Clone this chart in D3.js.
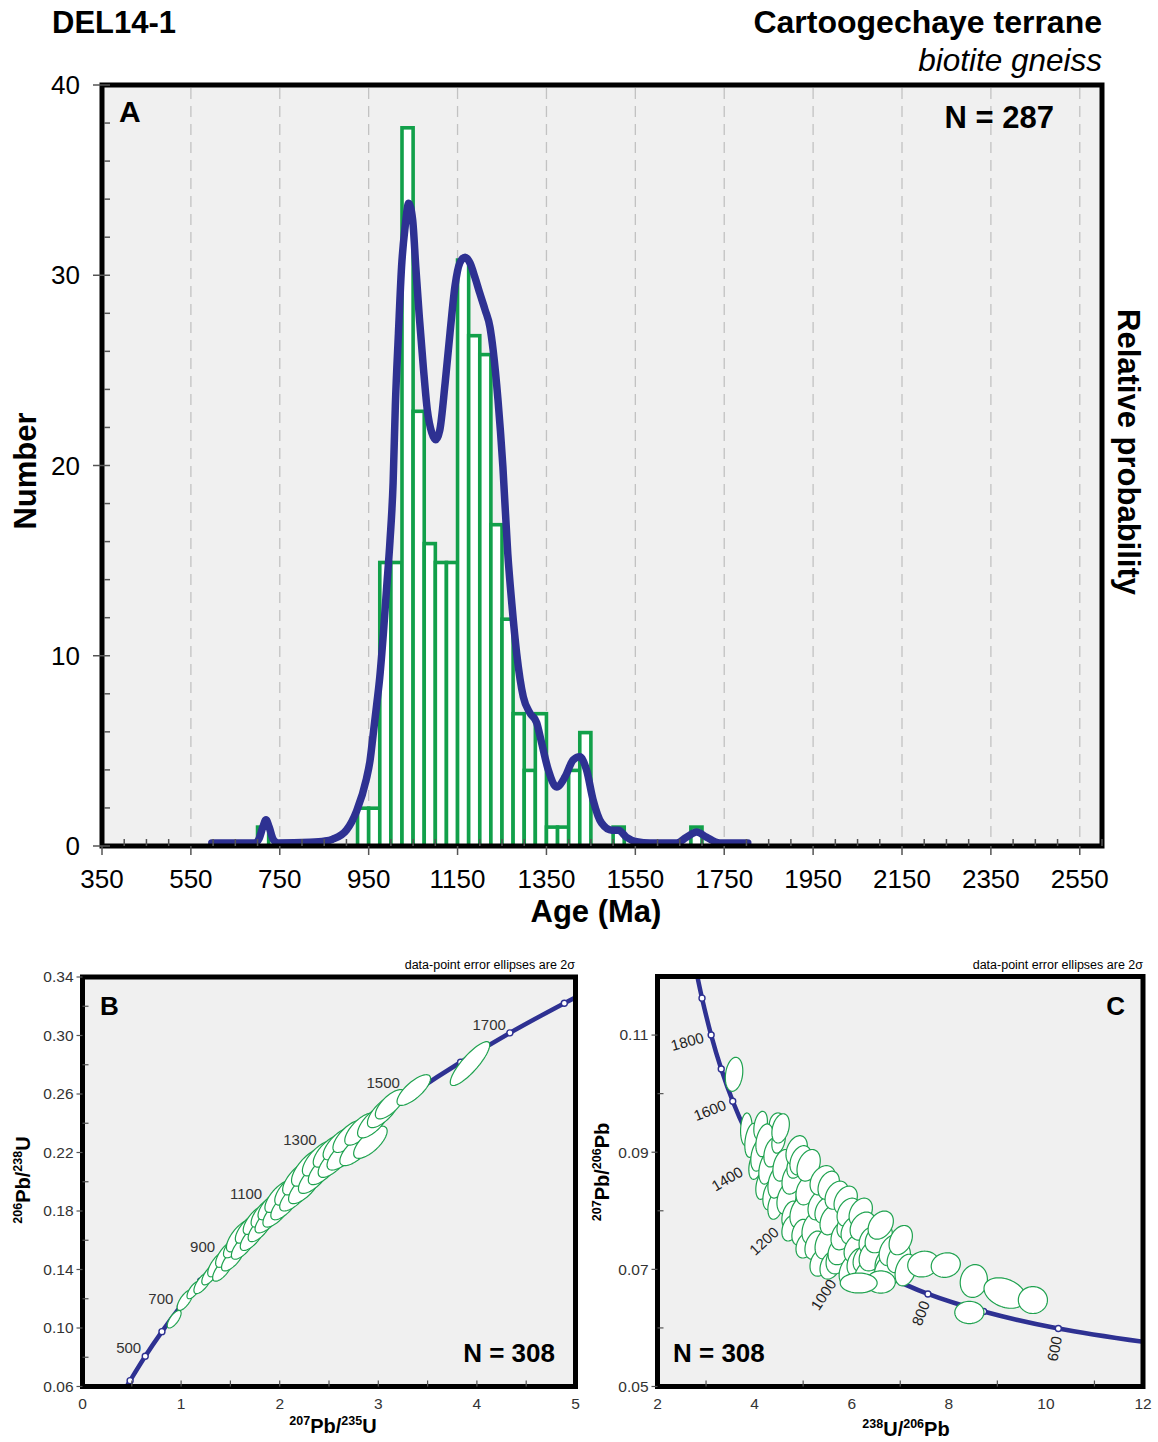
<!DOCTYPE html>
<html><head><meta charset="utf-8">
<script src="https://cdn.jsdelivr.net/npm/d3@7"></script>
<style>
body{margin:0;background:#fff;}
svg text{font-family:"Liberation Sans",Arial,Helvetica,sans-serif;}
</style>
</head><body>
<svg id="c" width="1158" height="1442"></svg>
<script>
// ---------------- DATA ----------------
// Panel A: histogram (25 Ma bins, start ages) and counts
const histBinStart = [700, 925, 950, 975, 1000, 1025, 1050, 1075, 1100, 1125, 1150, 1175, 1200, 1225, 1250, 1275, 1300, 1325, 1350, 1375, 1400, 1425, 1500, 1675];
const histBinWidth = 25;
const histCounts   = [1, 2, 2, 15, 15, 38, 23, 16, 15, 15, 31, 27, 26, 17, 12, 7, 4, 7, 1, 1, 4, 6, 1, 1];
// Panel A: relative probability curve (age Ma, relative probability)
const probAge = [597,694,703,712,719,726,735,746,818,852,869,900,923,945,953,960,968,975,983,990,998,1005,1010,1017,1024,1032,1040,1049,1056,1064,1073,1082,1092,1101,1110,1122,1133,1144,1155,1167,1178,1189,1200,1212,1223,1230,1241,1252,1263,1272,1283,1298,1313,1328,1339,1354,1373,1392,1410,1425,1440,1455,1474,1497,1512,1530,1553,1583,1643,1665,1688,1710,1740,1803];
const probRel = [0,0,0.006,0.025,0.036,0.025,0.006,0,0.001,0.003,0.006,0.020,0.050,0.100,0.128,0.168,0.215,0.258,0.325,0.393,0.470,0.560,0.680,0.793,0.896,0.958,0.995,0.969,0.896,0.818,0.740,0.673,0.638,0.627,0.642,0.715,0.793,0.865,0.902,0.911,0.902,0.880,0.855,0.829,0.802,0.767,0.689,0.585,0.450,0.373,0.295,0.227,0.202,0.187,0.156,0.114,0.087,0.103,0.129,0.134,0.114,0.067,0.031,0.020,0.020,0.009,0.002,0,0,0.009,0.017,0.009,0,0];
const ageTicks = [350, 550, 750, 950, 1150, 1350, 1550, 1750, 1950, 2150, 2350, 2550];
const numberTicks = [0, 10, 20, 30, 40];

// Panel B: Wetherill concordia (age, 207Pb/235U, 206Pb/238U)
const concBAge = [370, 400, 500, 600, 700, 800, 900, 1000, 1100, 1200, 1300, 1400, 1500, 1600, 1700, 1800, 1820];
const concB207 = [0.4396, 0.4828, 0.6362, 0.8057, 0.9925, 1.1987, 1.4264, 1.6774, 1.9546, 2.2603, 2.5977, 2.9700, 3.3809, 3.8343, 4.3347, 4.8867, 5.004];
const concB206 = [0.0591, 0.0640, 0.0807, 0.0975, 0.1147, 0.1321, 0.1498, 0.1678, 0.1861, 0.2046, 0.2234, 0.2426, 0.2620, 0.2817, 0.3018, 0.3221, 0.3262];
const concBLabels = [500, 700, 900, 1100, 1300, 1500, 1700];
// Panel B ellipses: [207/235, 2s, 206/238, 2s, rho]
const ellB = [
[0.93,0.07,0.106,0.006,0.7],[1.04,0.08,0.119,0.007,0.7],[1.13,0.07,0.126,0.006,0.7],[1.22,0.09,0.131,0.0075,0.7],
[1.30,0.09,0.137,0.0075,0.7],[1.38,0.11,0.144,0.009,0.7],[1.42,0.10,0.140,0.008,0.7],[1.47,0.12,0.151,0.0095,0.7],
[1.52,0.11,0.147,0.008,0.7],[1.55,0.12,0.157,0.009,0.7],[1.60,0.14,0.163,0.011,0.7],[1.63,0.12,0.156,0.009,0.7],
[1.68,0.13,0.168,0.010,0.7],[1.72,0.12,0.162,0.009,0.7],[1.76,0.13,0.174,0.010,0.7],[1.80,0.12,0.168,0.009,0.7],
[1.84,0.13,0.179,0.010,0.7],[1.88,0.13,0.174,0.009,0.7],[1.92,0.14,0.184,0.010,0.7],[1.97,0.14,0.179,0.010,0.7],
[2.00,0.15,0.190,0.011,0.7],[2.05,0.14,0.184,0.010,0.7],[2.10,0.15,0.195,0.011,0.7],[2.15,0.15,0.190,0.010,0.7],
[2.20,0.17,0.203,0.012,0.7],[2.25,0.16,0.196,0.011,0.7],[2.30,0.18,0.210,0.013,0.7],[2.35,0.16,0.203,0.011,0.7],
[2.40,0.17,0.216,0.012,0.7],[2.45,0.16,0.209,0.011,0.7],[2.50,0.16,0.221,0.011,0.7],[2.55,0.16,0.214,0.011,0.7],
[2.60,0.16,0.226,0.011,0.7],[2.65,0.17,0.219,0.011,0.7],[2.70,0.16,0.231,0.011,0.7],[2.78,0.17,0.222,0.011,0.7],
[2.82,0.16,0.236,0.011,0.7],[2.92,0.17,0.227,0.011,0.7],[2.95,0.16,0.241,0.011,0.7],[3.05,0.16,0.248,0.011,0.7],
[3.12,0.15,0.253,0.010,0.7],[3.36,0.17,0.2627,0.0105,0.75],[3.93,0.20,0.2808,0.015,0.85]
];
const bXTicks = [0, 1, 2, 3, 4, 5];
const bYTicks = [0.06, 0.10, 0.14, 0.18, 0.22, 0.26, 0.30, 0.34];

// Panel C: Tera-Wasserburg concordia (age, 238U/206Pb, 207Pb/206Pb)
const concCAge = [515, 600, 700, 800, 900, 1000, 1100, 1200, 1300, 1400, 1500, 1600, 1700, 1800, 1900, 1960];
const concC238 = [12.024, 10.256, 8.718, 7.570, 6.676, 5.959, 5.373, 4.888, 4.476, 4.122, 3.817, 3.550, 3.313, 3.105, 2.917, 2.814];
const concC207 = [0.0576, 0.0599, 0.0628, 0.0658, 0.0691, 0.0725, 0.0762, 0.0801, 0.0843, 0.0888, 0.0936, 0.0987, 0.1042, 0.1100, 0.1163, 0.1203];
const concCLabels = [600, 800, 1000, 1200, 1400, 1600, 1800];
// Panel C ellipses: [238/206, 2s, 207/206, 2s, rho]
const ellC = [
[3.577,0.18,0.1033,0.0029,0.2],[3.831,0.12,0.0939,0.0028,0.1],[4.482,0.18,0.0946,0.0021,0.0],
[3.938,0.14,0.09203,0.0029,0.3],[4.021,0.14,0.08777,0.0024,0.3],[4.082,0.16,0.08947,0.0027,0.3],
[4.124,0.14,0.09458,0.0024,0.3],[4.165,0.14,0.08436,0.0024,0.3],[4.206,0.18,0.09203,0.0028,0.3],
[4.247,0.16,0.08726,0.0027,0.3],[4.330,0.16,0.08266,0.0025,0.3],[4.371,0.18,0.08998,0.0025,0.3],
[4.433,0.16,0.08095,0.0024,0.3],[4.454,0.18,0.08487,0.0027,0.3],[4.495,0.14,0.09203,0.0022,0.3],
[4.536,0.18,0.09407,0.0025,0.3],[4.577,0.20,0.08777,0.0027,0.3],[4.660,0.20,0.08215,0.0027,0.3],
[4.742,0.18,0.07925,0.0024,0.3],[4.742,0.18,0.07704,0.0022,0.3],[4.784,0.22,0.08555,0.0027,0.3],
[4.845,0.18,0.08777,0.0022,0.3],[4.866,0.22,0.09032,0.0025,0.3],[4.948,0.22,0.07976,0.0027,0.3],
[4.948,0.22,0.08862,0.0025,0.3],[4.948,0.18,0.07635,0.0022,0.3],[5.052,0.20,0.07414,0.0022,0.3],
[5.072,0.22,0.08351,0.0025,0.3],[5.113,0.24,0.08777,0.0027,0.3],[5.196,0.22,0.07704,0.0027,0.3],
[5.237,0.20,0.07414,0.0024,0.3],[5.320,0.22,0.08095,0.0025,0.3],[5.361,0.22,0.07124,0.0024,0.3],
[5.402,0.26,0.08521,0.0025,0.3],[5.443,0.20,0.08010,0.0022,0.3],[5.485,0.24,0.07448,0.0027,0.3],
[5.526,0.22,0.08436,0.0024,0.3],[5.567,0.22,0.07840,0.0025,0.3],[5.567,0.22,0.07073,0.0024,0.3],
[5.691,0.24,0.08266,0.0024,0.3],[5.732,0.26,0.07193,0.0027,0.3],[5.773,0.26,0.07329,0.0025,0.3],
[5.814,0.24,0.07584,0.0025,0.3],[5.876,0.24,0.08181,0.0024,0.3],[5.897,0.20,0.07755,0.0022,0.3],
[5.938,0.24,0.07976,0.0024,0.3],[6.021,0.28,0.06988,0.0029,0.3],[6.021,0.24,0.07669,0.0024,0.3],
[6.103,0.26,0.07363,0.0025,0.3],[6.124,0.22,0.07124,0.0024,0.3],[6.186,0.24,0.07976,0.0024,0.3],
[6.227,0.26,0.07738,0.0024,0.3],[6.289,0.26,0.07193,0.0025,0.3],[6.351,0.30,0.06903,0.0029,0.3],
[6.351,0.20,0.07499,0.0022,0.3],[6.433,0.28,0.07244,0.0027,0.3],[6.557,0.28,0.07533,0.0025,0.3],
[6.598,0.26,0.07755,0.0024,0.3],[6.701,0.22,0.07124,0.0024,0.3],[6.763,0.30,0.06988,0.0031,0.3],
[6.845,0.28,0.07329,0.0027,0.3],[6.969,0.24,0.07193,0.0025,0.3],[7.010,0.24,0.07499,0.0025,0.3],
[7.113,0.22,0.06988,0.0027,0.3],[6.598,0.30,0.06784,0.0019,0.0],[6.144,0.38,0.06767,0.0017,0.0],
[7.474,0.32,0.07090,0.0022,0.1],[7.938,0.30,0.07073,0.0021,0.1],[8.515,0.28,0.06801,0.0028,0.1],
[9.155,0.43,0.06596,0.0026,-0.3],[9.732,0.30,0.06476,0.0023,0.0],[8.423,0.30,0.06264,0.0019,0.0]
];
const cXTicks = [2, 4, 6, 8, 10, 12];
const cYTicks = [0.05, 0.07, 0.09, 0.11];

// ---------------- STYLE ----------------
const BLUE = "#2e3192", GREEN = "#12a04a", EGREEN = "#1fa24f", BG = "#f0f0f0", TICK = "#555";
const svg = d3.select("#c");

// ================= PANEL A =================
const xA = d3.scaleLinear().domain([350, 2600]).range([102, 1102]);
const yA = d3.scaleLinear().domain([0, 40]).range([846, 85]);
const yH = d3.scaleLinear().domain([0, 40]).range([846, 90]);
const yP = d3.scaleLinear().domain([0, 1]).range([843, 200]);

svg.append("rect").attr("x", xA(350)).attr("y", yA(40)).attr("width", xA(2600) - xA(350)).attr("height", yA(0) - yA(40)).attr("fill", BG);

svg.append("g").selectAll("line").data(ageTicks.slice(1)).join("line")
  .attr("x1", d => xA(d)).attr("x2", d => xA(d)).attr("y1", yA(40) + 3).attr("y2", yA(0) - 3)
  .attr("stroke", "#c2c2c2").attr("stroke-width", 1.3).attr("stroke-dasharray", "11,7");

svg.append("g").selectAll("rect").data(histBinStart.map((s, i) => ({s, c: histCounts[i]}))).join("rect")
  .attr("x", d => xA(d.s)).attr("width", d => xA(d.s + histBinWidth) - xA(d.s))
  .attr("y", d => yH(d.c)).attr("height", d => yH(0) - yH(d.c))
  .attr("fill", "#fff").attr("stroke", GREEN).attr("stroke-width", 3.6);

svg.append("path").datum(probAge.map((a, i) => [a, probRel[i]]))
  .attr("d", d3.line().x(d => xA(d[0])).y(d => yP(d[1])).curve(d3.curveMonotoneX))
  .attr("fill", "none").attr("stroke", BLUE).attr("stroke-width", 7.5).attr("stroke-linejoin", "round").attr("stroke-linecap", "round");

svg.append("rect").attr("x", xA(350)).attr("y", yA(40)).attr("width", xA(2600) - xA(350)).attr("height", yA(0) - yA(40))
  .attr("fill", "none").attr("stroke", "#000").attr("stroke-width", 5);

const gA = svg.append("g");
gA.selectAll(".ym").data(d3.range(0, 41, 2)).join("line")
  .attr("x1", d => d % 10 === 0 ? 93 : 104).attr("x2", 110)
  .attr("y1", d => yA(d)).attr("y2", d => yA(d)).attr("stroke", TICK).attr("stroke-width", 1.5);
gA.selectAll(".xm").data(d3.range(350, 2601, 50)).join("line")
  .attr("x1", d => xA(d)).attr("x2", d => xA(d))
  .attr("y1", d => ageTicks.includes(d) ? 855 : 839).attr("y2", 846).attr("stroke", TICK).attr("stroke-width", 1.5);
gA.selectAll(".yl").data(numberTicks).join("text")
  .attr("x", 80).attr("y", d => yA(d)).attr("dy", "0.35em").attr("text-anchor", "end")
  .attr("font-size", 26).text(d => d);
gA.selectAll(".xl").data(ageTicks).join("text")
  .attr("x", d => xA(d)).attr("y", 888).attr("text-anchor", "middle")
  .attr("font-size", 26).text(d => d);

svg.append("text").attr("x", 596).attr("y", 922).attr("text-anchor", "middle").attr("font-size", 31).attr("font-weight", "bold").text("Age (Ma)");
svg.append("text").attr("transform", "translate(36,471) rotate(-90)").attr("text-anchor", "middle").attr("font-size", 31).attr("font-weight", "bold").text("Number");
svg.append("text").attr("transform", "translate(1118,452) rotate(90)").attr("text-anchor", "middle").attr("font-size", 31).attr("font-weight", "bold").text("Relative probability");
svg.append("text").attr("x", 52).attr("y", 33).attr("font-size", 31).attr("font-weight", "bold").text("DEL14-1");
svg.append("text").attr("x", 1102).attr("y", 33).attr("text-anchor", "end").attr("font-size", 32).attr("font-weight", "bold").text("Cartoogechaye terrane");
svg.append("text").attr("x", 1102).attr("y", 71).attr("text-anchor", "end").attr("font-size", 31.5).attr("font-style", "italic").text("biotite gneiss");
svg.append("text").attr("x", 119).attr("y", 122).attr("font-size", 30).attr("font-weight", "bold").text("A");
svg.append("text").attr("x", 1054).attr("y", 128).attr("text-anchor", "end").attr("font-size", 31).attr("font-weight", "bold").text("N = 287");

// ================= helpers =================
function ellipsePts(e, xs, ys) {
  const [cx, sx, cy, sy, r] = e, pts = [];
  const q = Math.sqrt(1 - r * r);
  for (let i = 0; i < 72; i++) {
    const t = i / 72 * 2 * Math.PI, u = Math.cos(t), v = Math.sin(t);
    pts.push([xs(cx + sx * u), ys(cy + sy * (r * u + q * v))]);
  }
  return pts;
}
function insideAny(polys, p) { return polys.some(pg => d3.polygonContains(pg, p)); }
function supTitle(g, parts, size, supSize) {
  parts.forEach((p, i) => {
    g.append("tspan").attr("font-size", p[1] ? supSize : size)
      .attr("dy", i === 0 ? (p[1] ? -size * 0.38 : 0) : (p[1] ? -size * 0.38 : size * 0.38)).text(p[0]);
  });
}
function frameTicks(g, xs, ys, xTickVals, xMinor, yTickVals, yMinor, fmtY) {
  const [x0] = xs.range(), [yb] = ys.range();
  g.selectAll(".xt").data(xMinor).join("line").attr("x1", d => xs(d)).attr("x2", d => xs(d))
    .attr("y1", yb - 6).attr("y2", yb).attr("stroke", TICK).attr("stroke-width", 1.2);
  g.selectAll(".ytm").data(yMinor).join("line").attr("y1", d => ys(d)).attr("y2", d => ys(d))
    .attr("x1", x0).attr("x2", x0 + 6).attr("stroke", TICK).attr("stroke-width", 1.2);
  g.selectAll(".ytM").data(yTickVals).join("line").attr("y1", d => ys(d)).attr("y2", d => ys(d))
    .attr("x1", x0 - 6).attr("x2", x0).attr("stroke", TICK).attr("stroke-width", 1.2);
  g.selectAll(".xl").data(xTickVals).join("text").attr("x", d => xs(d)).attr("y", yb + 22)
    .attr("text-anchor", "middle").attr("font-size", 15.5).attr("fill", "#333").text(d => d);
  g.selectAll(".yl").data(yTickVals).join("text").attr("x", x0 - 9).attr("y", d => ys(d)).attr("dy", "0.35em")
    .attr("text-anchor", "end").attr("font-size", 15.5).attr("fill", "#333").text(fmtY);
}

const defs = svg.append("defs");
defs.append("clipPath").attr("id", "clipB").append("rect").attr("x", 82.5).attr("y", 977).attr("width", 493).attr("height", 409.5);
defs.append("clipPath").attr("id", "clipC").append("rect").attr("x", 657.5).attr("y", 976.5).attr("width", 485.5).attr("height", 410);

// ================= PANEL B =================
const xB = d3.scaleLinear().domain([0, 5]).range([82.5, 575.5]);
const yB = d3.scaleLinear().domain([0.06, 0.34]).range([1386.5, 977]);
svg.append("rect").attr("x", 82.5).attr("y", 977).attr("width", 493).attr("height", 409.5).attr("fill", BG);
const gB = svg.append("g").attr("clip-path", "url(#clipB)");
gB.append("path").datum(concBAge.map((a, i) => [concB207[i], concB206[i]]))
  .attr("d", d3.line().x(d => xB(d[0])).y(d => yB(d[1])).curve(d3.curveCatmullRom))
  .attr("fill", "none").attr("stroke", BLUE).attr("stroke-width", 4.5);
const mB = concBAge.map((a, i) => ({a, x: concB207[i], y: concB206[i]})).filter(d => d.a % 100 === 0);
gB.selectAll("circle").data(mB).join("circle").attr("cx", d => xB(d.x)).attr("cy", d => yB(d.y)).attr("r", 3)
  .attr("fill", "#fff").attr("stroke", BLUE).attr("stroke-width", 1.4);
const polyB = ellB.map(e => ellipsePts(e, xB, yB));
gB.selectAll(".el").data(polyB).join("path").attr("d", p => d3.line().curve(d3.curveLinearClosed)(p))
  .attr("fill", "#fff").attr("stroke", EGREEN).attr("stroke-width", 1.2);
mB.filter(d => concBLabels.includes(d.a)).forEach(d => {
  let px = xB(d.x), py = yB(d.y) - 3;
  let k = 0; while (insideAny(polyB, [px, py]) && k < 60) { px -= 1; k++; }
  gB.append("text").attr("x", px - 4).attr("y", py).attr("text-anchor", "end")
    .attr("font-size", 15).attr("fill", "#333").text(d.a);
});
svg.append("rect").attr("x", 82.5).attr("y", 977).attr("width", 493).attr("height", 409.5).attr("fill", "none").attr("stroke", "#000").attr("stroke-width", 5);
frameTicks(svg.append("g"), xB, yB, bXTicks, d3.range(0.5, 5, 0.5), bYTicks, [0.08, 0.12, 0.16, 0.20, 0.24, 0.28, 0.32], d => d.toFixed(2));
svg.append("text").attr("x", 575).attr("y", 969).attr("text-anchor", "end").attr("font-size", 12.5).text("data-point error ellipses are 2σ");
svg.append("text").attr("x", 100).attr("y", 1015).attr("font-size", 26).attr("font-weight", "bold").text("B");
svg.append("text").attr("x", 555).attr("y", 1362).attr("text-anchor", "end").attr("font-size", 26).attr("font-weight", "bold").text("N = 308");
supTitle(svg.append("text").attr("x", 333).attr("y", 1433).attr("text-anchor", "middle").attr("font-weight", "bold"),
  [["207", 1], ["Pb/", 0], ["235", 1], ["U", 0]], 20, 12.5);
supTitle(svg.append("text").attr("transform", "translate(30,1180) rotate(-90)").attr("text-anchor", "middle").attr("font-weight", "bold"),
  [["206", 1], ["Pb/", 0], ["238", 1], ["U", 0]], 20, 12.5);

// ================= PANEL C =================
const xC = d3.scaleLinear().domain([2, 12]).range([657.5, 1143]);
const yC = d3.scaleLinear().domain([0.05, 0.12]).range([1386.5, 976.5]);
svg.append("rect").attr("x", 657.5).attr("y", 976.5).attr("width", 485.5).attr("height", 410).attr("fill", BG);
const gC = svg.append("g").attr("clip-path", "url(#clipC)");
const ptsC = concCAge.map((a, i) => ({a, x: concC238[i], y: concC207[i]}));
gC.append("path").datum(ptsC)
  .attr("d", d3.line().x(d => xC(d.x)).y(d => yC(d.y)).curve(d3.curveCatmullRom))
  .attr("fill", "none").attr("stroke", BLUE).attr("stroke-width", 4.5);
const mC = ptsC.filter(d => d.a % 100 === 0);
gC.selectAll("circle").data(mC).join("circle").attr("cx", d => xC(d.x)).attr("cy", d => yC(d.y)).attr("r", 3)
  .attr("fill", "#fff").attr("stroke", BLUE).attr("stroke-width", 1.4);
const polyC = ellC.map(e => ellipsePts(e, xC, yC));
gC.selectAll(".el").data(polyC).join("path").attr("d", p => d3.line().curve(d3.curveLinearClosed)(p))
  .attr("fill", "#fff").attr("stroke", EGREEN).attr("stroke-width", 1.2);
ptsC.forEach((d, i) => {
  if (!concCLabels.includes(d.a)) return;
  const p0 = ptsC[i - 1], p1 = ptsC[i + 1];
  let tx = xC(p1.x) - xC(p0.x), ty = yC(p1.y) - yC(p0.y);
  const L = Math.hypot(tx, ty); tx /= L; ty /= L;
  const nx = ty, ny = -tx;
  let g = 0;
  while (insideAny(polyC, [xC(d.x) + nx * g, yC(d.y) + ny * g]) && g < 80) g += 1;
  g += 8;
  const px = xC(d.x) + nx * g, py = yC(d.y) + ny * g;
  const ang = Math.atan2(-ny, -nx) * 180 / Math.PI;
  gC.append("text").attr("transform", `translate(${px},${py}) rotate(${ang})`)
    .attr("text-anchor", "end").attr("dy", "0.35em").attr("font-size", 15).attr("fill", "#222").text(d.a);
});
svg.append("rect").attr("x", 657.5).attr("y", 976.5).attr("width", 485.5).attr("height", 410).attr("fill", "none").attr("stroke", "#000").attr("stroke-width", 5);
frameTicks(svg.append("g"), xC, yC, cXTicks, [3, 5, 7, 9, 11], cYTicks, [0.06, 0.08, 0.10], d => d.toFixed(2));
svg.append("text").attr("x", 1143).attr("y", 969).attr("text-anchor", "end").attr("font-size", 12.5).text("data-point error ellipses are 2σ");
svg.append("text").attr("x", 1125).attr("y", 1015).attr("text-anchor", "end").attr("font-size", 26).attr("font-weight", "bold").text("C");
svg.append("text").attr("x", 673).attr("y", 1362).attr("font-size", 26).attr("font-weight", "bold").text("N = 308");
supTitle(svg.append("text").attr("x", 906).attr("y", 1436).attr("text-anchor", "middle").attr("font-weight", "bold"),
  [["238", 1], ["U/", 0], ["206", 1], ["Pb", 0]], 20, 12.5);
supTitle(svg.append("text").attr("transform", "translate(609,1172) rotate(-90)").attr("text-anchor", "middle").attr("font-weight", "bold"),
  [["207", 1], ["Pb/", 0], ["206", 1], ["Pb", 0]], 20, 12.5);
</script>
</body></html>
